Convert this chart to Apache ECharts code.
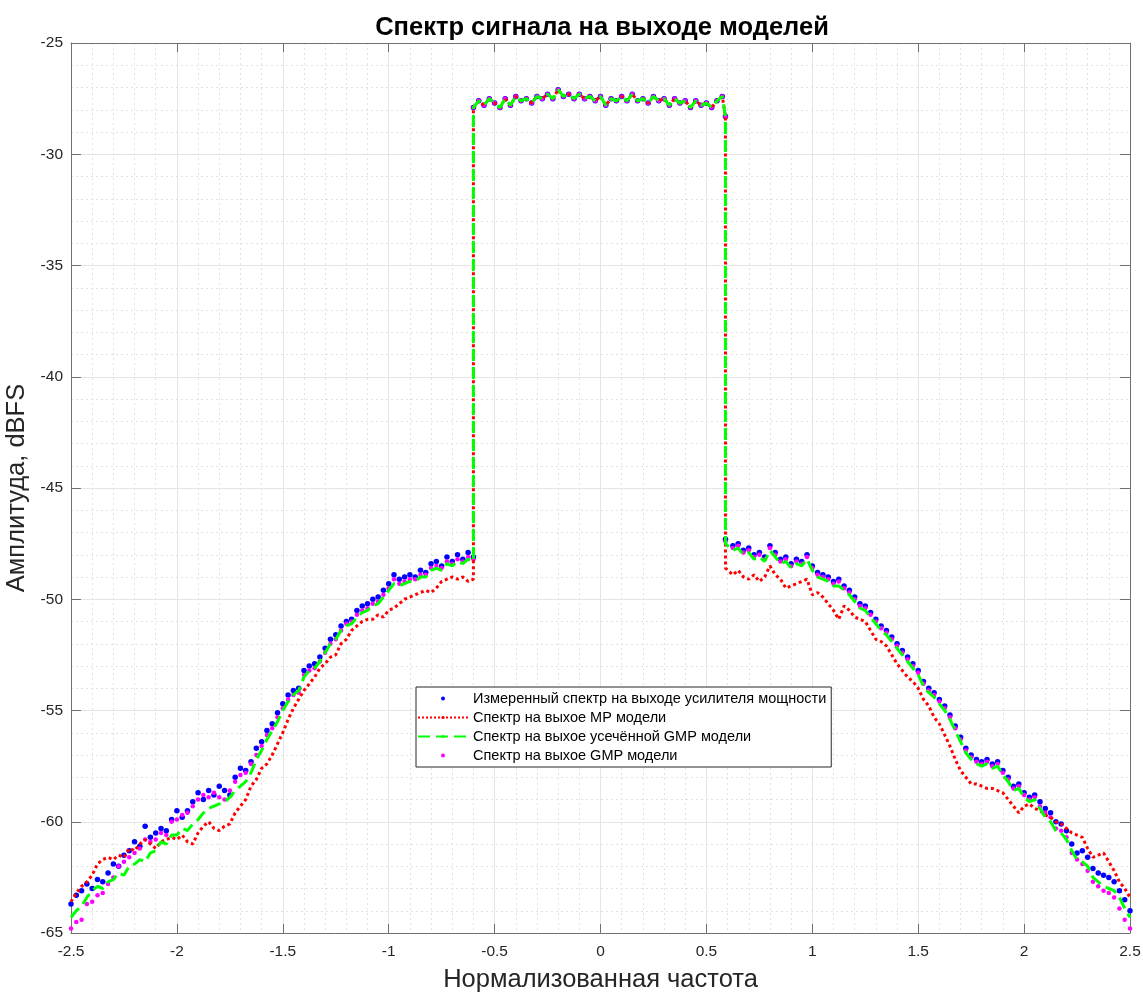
<!DOCTYPE html>
<html lang="ru" style="height: 100%">
<head>
<meta charset="utf-8">
<title>Спектр сигнала на выходе моделей</title>
</head>
<body style="height: 100%; margin: 0; background: #fff">
<div id="container" style="width: 1143px; height: 994px"></div>

<script type="text/javascript" src="https://cdn.jsdelivr.net/npm/echarts@6/dist/echarts.min.js"></script>

<script type="text/javascript">
// frequency grid (normalized), left skirt / passband / right skirt
var freqLeft = [
  -2.5, -2.475, -2.45, -2.425, -2.4, -2.375, -2.35, -2.325, -2.3, -2.275,
  -2.25, -2.225, -2.2, -2.175, -2.15, -2.125, -2.1, -2.075, -2.05, -2.025,
  -2.0, -1.975, -1.95, -1.925, -1.9, -1.875, -1.85, -1.825, -1.8, -1.775,
  -1.75, -1.725, -1.7, -1.675, -1.65, -1.625, -1.6, -1.575, -1.55, -1.525,
  -1.5, -1.475, -1.45, -1.425, -1.4, -1.375, -1.35, -1.325, -1.3, -1.275,
  -1.25, -1.225, -1.2, -1.175, -1.15, -1.125, -1.1, -1.075, -1.05, -1.025,
  -1.0, -0.975, -0.95, -0.925, -0.9, -0.875, -0.85, -0.825, -0.8, -0.775,
  -0.75, -0.725, -0.7, -0.675, -0.65, -0.625, -0.6
];
var freqBand = [
  -0.6, -0.575, -0.55, -0.525, -0.5, -0.475, -0.45, -0.425, -0.4, -0.375,
  -0.35, -0.325, -0.3, -0.275, -0.25, -0.225, -0.2, -0.175, -0.15, -0.125,
  -0.1, -0.075, -0.05, -0.025, 0.0, 0.025, 0.05, 0.075, 0.1, 0.125,
  0.15, 0.175, 0.2, 0.225, 0.25, 0.275, 0.3, 0.325, 0.35, 0.375,
  0.4, 0.425, 0.45, 0.475, 0.5, 0.525, 0.55, 0.575, 0.59
];
var freqRight = [
  0.59, 0.625, 0.65, 0.675, 0.7, 0.725, 0.75, 0.775, 0.8, 0.825,
  0.85, 0.875, 0.9, 0.925, 0.95, 0.975, 1.0, 1.025, 1.05, 1.075,
  1.1, 1.125, 1.15, 1.175, 1.2, 1.225, 1.25, 1.275, 1.3, 1.325,
  1.35, 1.375, 1.4, 1.425, 1.45, 1.475, 1.5, 1.525, 1.55, 1.575,
  1.6, 1.625, 1.65, 1.675, 1.7, 1.725, 1.75, 1.775, 1.8, 1.825,
  1.85, 1.875, 1.9, 1.925, 1.95, 1.975, 2.0, 2.025, 2.05, 2.075,
  2.1, 2.125, 2.15, 2.175, 2.2, 2.225, 2.25, 2.275, 2.3, 2.325,
  2.35, 2.375, 2.4, 2.425, 2.45, 2.475, 2.5
];

// passband level, common to all four spectra (dBFS)
var passband = [
  -27.9, -27.6, -27.8, -27.5, -27.7, -27.9, -27.5, -27.8, -27.4, -27.6,
  -27.5, -27.7, -27.4, -27.5, -27.3, -27.5, -27.1, -27.4, -27.3, -27.5,
  -27.3, -27.5, -27.4, -27.6, -27.4, -27.8, -27.5, -27.6, -27.4, -27.6,
  -27.3, -27.6, -27.5, -27.7, -27.4, -27.6, -27.5, -27.8, -27.5, -27.7,
  -27.6, -27.9, -27.6, -27.8, -27.7, -27.9, -27.6, -27.4, -28.3
];

// measured PA output
var measLeft = [
  -63.7, -63.3, -63.1, -62.8, -63.0, -62.6, -62.7, -62.3, -61.9, -62.0,
  -61.5, -61.3, -60.9, -61.1, -60.2, -60.7, -60.5, -60.3, -60.4, -59.9,
  -59.5, -59.8, -59.5, -59.1, -58.7, -59.0, -58.6, -58.8, -58.4, -58.6,
  -58.8, -58.0, -57.6, -57.7, -57.3, -56.7, -56.4, -55.9, -55.6, -55.1,
  -54.7, -54.3, -54.1, -54.0, -53.2, -53.0, -52.9, -52.6, -52.2, -51.8,
  -51.6, -51.2, -51.0, -50.9, -50.5, -50.3, -50.2, -50.0, -49.9, -49.6,
  -49.3, -48.9, -49.1, -49.0, -48.9, -49.0, -48.7, -48.8, -48.4, -48.3,
  -48.5, -48.1, -48.3, -48.0, -48.2, -47.9, -48.1
];
var measRight = [
  -47.3, -47.6, -47.5, -47.8, -47.7, -48.0, -47.9, -48.1, -47.6, -47.9,
  -48.2, -48.1, -48.4, -48.2, -48.3, -48.0, -48.5, -48.8, -48.9, -49.0,
  -49.2, -49.1, -49.4, -49.6, -49.9, -50.2, -50.3, -50.6, -50.9, -51.2,
  -51.4, -51.7, -52.0, -52.3, -52.6, -52.9, -53.2, -53.7, -54.0, -54.2,
  -54.5, -54.8, -55.2, -55.7, -56.2, -56.7, -57.0, -57.2, -57.3, -57.2,
  -57.4, -57.3, -57.7, -58.0, -58.4, -58.3, -58.7, -58.9, -58.8, -59.1,
  -59.4, -59.6, -60.0, -60.1, -60.4, -61.0, -61.4, -61.3, -61.6, -62.1,
  -62.3, -62.4, -62.5, -62.7, -63.1, -63.5, -64.0
];

// MP model
var mpLeft = [
  -63.6, -63.2, -62.9, -62.7, -62.4, -61.9, -61.7, -61.6, -61.7, -61.5,
  -61.6, -61.2, -61.3, -61.0, -60.8, -61.0, -61.2, -60.9, -60.8, -60.7,
  -60.8, -60.6, -60.9, -61.0, -60.5, -60.2, -60.0, -60.3, -60.4, -60.2,
  -60.1, -59.6, -59.3, -59.0, -58.4, -58.1, -57.6, -57.4, -57.0, -56.5,
  -56.0, -55.4, -54.9, -54.5, -54.1, -53.8, -53.5, -53.1, -52.9, -52.6,
  -52.5, -52.0, -51.8, -51.4, -51.2, -51.0, -50.9, -50.9, -50.7, -50.8,
  -50.5, -50.4, -50.2, -50.0, -49.9, -49.8, -49.7, -49.6, -49.7, -49.5,
  -49.2, -49.1, -49.0, -49.1, -49.0, -49.2, -49.1
];
var mpRight = [
  -48.6, -48.9, -48.7, -49.0, -49.1, -48.9, -49.2, -49.0, -48.5, -48.9,
  -49.1, -49.5, -49.4, -49.3, -49.2, -49.1, -49.8, -49.7, -49.9, -50.2,
  -50.5, -50.9, -50.3, -50.5, -50.8, -50.9, -51.0, -51.4, -51.8, -51.9,
  -52.1, -52.5, -52.9, -53.2, -53.5, -53.7, -54.0, -54.5, -54.8, -55.3,
  -55.6, -56.1, -56.6, -57.2, -57.7, -58.0, -58.3, -58.3, -58.4, -58.5,
  -58.5, -58.6, -58.7, -59.0, -59.3, -59.6, -59.3, -59.2, -59.4, -59.5,
  -59.7, -59.8, -60.0, -60.1, -60.3, -60.5, -60.6, -60.7, -61.2, -61.6,
  -61.5, -61.4, -61.8, -62.2, -62.7, -63.0, -63.4
];

// truncated GMP model
var tgmpLeft = [
  -64.3, -64.0, -63.8, -63.4, -63.1, -62.9, -63.0, -62.7, -62.6, -62.3,
  -62.4, -62.0, -61.9, -61.7, -61.8, -61.4, -61.3, -60.9, -61.0, -60.6,
  -60.6, -60.3, -60.4, -60.1, -59.9, -59.6, -59.4, -59.3, -59.2, -59.1,
  -58.9, -58.6, -58.4, -58.2, -57.8, -57.2, -56.8, -56.3, -55.9, -55.5,
  -55.0, -54.6, -54.3, -54.1, -53.5, -53.2, -53.1, -52.8, -52.4, -52.0,
  -51.8, -51.4, -51.2, -51.1, -50.8, -50.6, -50.5, -50.3, -50.2, -49.9,
  -49.6, -49.3, -49.4, -49.3, -49.2, -49.2, -49.0, -49.0, -48.7, -48.6,
  -48.7, -48.4, -48.5, -48.3, -48.4, -48.2, -48.3
];
var tgmpRight = [
  -47.5, -47.8, -47.7, -48.0, -47.9, -48.2, -48.1, -48.3, -47.8, -48.1,
  -48.4, -48.3, -48.6, -48.4, -48.5, -48.2, -48.7, -49.0, -49.1, -49.2,
  -49.4, -49.4, -49.6, -49.8, -50.1, -50.4, -50.5, -50.8, -51.1, -51.4,
  -51.6, -51.9, -52.2, -52.5, -52.8, -53.1, -53.4, -53.9, -54.2, -54.4,
  -54.7, -55.0, -55.4, -55.9, -56.4, -56.9, -57.2, -57.4, -57.5, -57.4,
  -57.6, -57.5, -57.9, -58.2, -58.6, -58.5, -58.9, -59.1, -59.0, -59.4,
  -59.8, -60.0, -60.4, -60.5, -60.8, -61.3, -61.7, -61.8, -62.0, -62.5,
  -62.7, -62.9, -63.0, -63.1, -63.4, -63.9, -64.3
];

// full GMP model
var gmpLeft = [
  -64.8, -64.5, -64.4, -63.7, -63.6, -63.3, -63.2, -62.8, -62.5, -62.0,
  -61.8, -61.6, -61.4, -61.2, -60.8, -60.9, -60.8, -60.5, -60.6, -60.0,
  -59.9, -59.7, -59.6, -59.3, -59.0, -58.8, -58.9, -58.7, -58.9, -59.0,
  -58.6, -58.2, -57.9, -57.8, -57.4, -57.0, -56.6, -56.1, -55.8, -55.3,
  -54.9, -54.5, -54.3, -54.2, -53.4, -53.2, -53.1, -52.8, -52.4, -52.0,
  -51.8, -51.4, -51.1, -51.0, -50.7, -50.5, -50.4, -50.2, -50.1, -49.8,
  -49.5, -49.1, -49.3, -49.2, -49.1, -49.1, -48.9, -48.9, -48.6, -48.5,
  -48.6, -48.3, -48.4, -48.2, -48.3, -48.1, -48.2
];
var gmpRight = [
  -47.4, -47.7, -47.6, -47.9, -47.8, -48.1, -48.0, -48.2, -47.7, -48.0,
  -48.3, -48.2, -48.5, -48.3, -48.4, -48.1, -48.6, -48.9, -49.0, -49.1,
  -49.3, -49.2, -49.5, -49.7, -50.0, -50.3, -50.4, -50.7, -51.0, -51.3,
  -51.5, -51.8, -52.1, -52.4, -52.7, -53.0, -53.3, -53.8, -54.1, -54.3,
  -54.6, -54.9, -55.3, -55.8, -56.3, -56.8, -57.1, -57.3, -57.4, -57.3,
  -57.5, -57.4, -57.8, -58.1, -58.5, -58.4, -58.8, -59.0, -58.9, -59.3,
  -59.6, -59.8, -60.3, -60.4, -60.7, -61.4, -61.7, -61.9, -62.2, -62.7,
  -62.9, -63.1, -63.2, -63.4, -63.9, -64.4, -64.8
];

var names = [
  'Измеренный спектр на выходе усилителя мощности',
  'Спектр на выхое MP модели',
  'Спектр на выхое усечённой GMP модели',
  'Спектр на выхое GMP модели'
];

function spectrum(left, right) {
  var pts = [];
  freqLeft.forEach(function (f, i) { pts.push([f, left[i]]); });
  freqBand.forEach(function (f, i) { pts.push([f, passband[i]]); });
  freqRight.forEach(function (f, i) { pts.push([f, right[i]]); });
  return pts;
}

var font = '"Liberation Sans", Arial, Helvetica, sans-serif';
var axisColor = '#707070';
var textColor = '#262626';
var gridMajor = '#e4e4e4';
var gridMinor = '#e2e2e2';

var chart = echarts.init(document.getElementById('container'), null, { renderer: 'canvas' });

var option = {
  animation: false,
  backgroundColor: '#ffffff',
  title: {
    text: 'Спектр сигнала на выходе моделей',
    left: 597,
    top: 10,
    textAlign: 'center',
    textStyle: { fontSize: 25.5, fontWeight: 'bold', color: '#000', fontFamily: font }
  },
  legend: {
    orient: 'vertical',
    left: 416,
    top: 687,
    itemWidth: 50,
    itemHeight: 4,
    itemGap: 4,
    padding: [4, 5, 4, 1],
    backgroundColor: '#ffffff',
    borderColor: '#262626',
    borderWidth: 1,
    borderRadius: 0,
    selectedMode: false,
    textStyle: { fontSize: 14.5, lineHeight: 15, color: '#000', fontFamily: font },
    data: names
  },
  grid: { left: 71, right: 13, top: 43, bottom: 61, containLabel: false, outerBoundsMode: 'none' },
  xAxis: [{
    type: 'value', min: -2.5, max: 2.5, interval: 0.5, position: 'bottom',
    name: 'Нормализованная частота', nameLocation: 'middle', nameGap: 34,
    nameTextStyle: { fontSize: 25.5, color: textColor, fontFamily: font },
    axisLine: { onZero: false, lineStyle: { color: axisColor, width: 1 } },
    axisTick: { inside: true, length: 9, lineStyle: { color: axisColor } },
    axisLabel: { margin: 11, fontSize: 15.5, color: textColor, fontFamily: font },
    splitLine: { show: true, lineStyle: { color: gridMajor, width: 1 } },
    minorTick: { show: false, splitNumber: 5 },
    minorSplitLine: { show: true, lineStyle: { color: gridMinor, width: 1, type: [2, 3] } }
  }, {
    type: 'value', min: -2.5, max: 2.5, interval: 0.5, position: 'top',
    axisLine: { onZero: false, lineStyle: { color: axisColor, width: 1 } },
    axisTick: { inside: true, length: 9, lineStyle: { color: axisColor } },
    axisLabel: { show: false },
    splitLine: { show: false }
  }],
  yAxis: [{
    type: 'value', min: -65, max: -25, interval: 5, position: 'left',
    name: 'Амплитуда, dBFS', nameLocation: 'middle', nameGap: 30,
    nameTextStyle: { fontSize: 25.5, color: textColor, fontFamily: font },
    axisLine: { onZero: false, lineStyle: { color: axisColor, width: 1 } },
    axisTick: { inside: true, length: 10, lineStyle: { color: axisColor } },
    axisLabel: { margin: 8, fontSize: 15.5, color: textColor, fontFamily: font },
    splitLine: { show: true, lineStyle: { color: gridMajor, width: 1 } },
    minorTick: { show: false, splitNumber: 5 },
    minorSplitLine: { show: true, lineStyle: { color: gridMinor, width: 1, type: [2, 3] } }
  }, {
    type: 'value', min: -65, max: -25, interval: 5, position: 'right',
    axisLine: { onZero: false, lineStyle: { color: axisColor, width: 1 } },
    axisTick: { inside: true, length: 10, lineStyle: { color: axisColor } },
    axisLabel: { show: false },
    splitLine: { show: false }
  }],
  series: [{
    name: names[0],
    type: 'scatter',
    xAxisIndex: 0, yAxisIndex: 0,
    symbol: 'circle',
    symbolSize: 5.5,
    itemStyle: { color: '#0000ff', opacity: 1 },
    data: spectrum(measLeft, measRight)
  }, {
    name: names[1],
    type: 'line',
    xAxisIndex: 0, yAxisIndex: 0,
    symbol: 'none',
    itemStyle: { color: '#ff0000' },
    lineStyle: { color: '#ff0000', width: 3, type: 'dotted' },
    data: spectrum(mpLeft, mpRight)
  }, {
    name: names[2],
    type: 'line',
    xAxisIndex: 0, yAxisIndex: 0,
    symbol: 'none',
    itemStyle: { color: '#00ff00' },
    lineStyle: { color: '#00ff00', width: 3, type: [12, 6] },
    data: spectrum(tgmpLeft, tgmpRight)
  }, {
    name: names[3],
    type: 'scatter',
    xAxisIndex: 0, yAxisIndex: 0,
    symbol: 'circle',
    symbolSize: 4.5,
    itemStyle: { color: '#ff00ff', opacity: 1 },
    data: spectrum(gmpLeft, gmpRight)
  }]
};

chart.setOption(option);
window.addEventListener('resize', chart.resize);
</script>
</body>
</html>
